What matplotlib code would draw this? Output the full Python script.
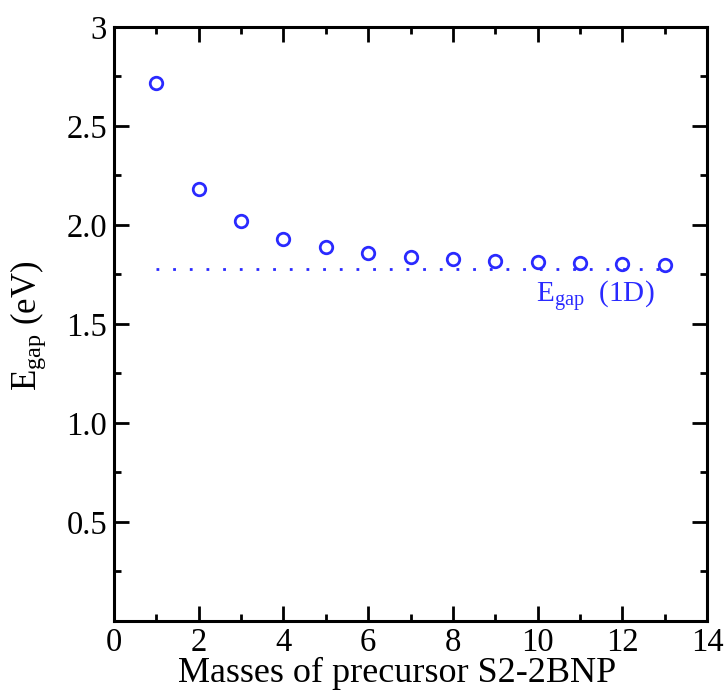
import numpy as np
import matplotlib
matplotlib.use("Agg")
import matplotlib.pyplot as plt
from matplotlib.ticker import MultipleLocator, FixedLocator, FixedFormatter

plt.rcParams['font.family'] = ['Liberation Serif', 'DejaVu Serif']
plt.rcParams['mathtext.fontset'] = 'custom'
plt.rcParams['mathtext.rm'] = 'Liberation Serif'
plt.rcParams['mathtext.it'] = 'Liberation Serif:italic'

# data
masses = [1, 2, 3, 4, 5, 6, 7, 8, 9, 10, 11, 12, 13]
egap = [2.717, 2.182, 2.020, 1.929, 1.889, 1.859, 1.838, 1.828, 1.818, 1.813, 1.808, 1.803, 1.798]
egap_1d = 1.778
line_x = [1, 13]

yticks = [0.5, 1.0, 1.5, 2.0, 2.5, 3.0]
ytick_labels = ['0.5', '1.0', '1.5', '2.0', '2.5', '3']

blue = '#2a2aff'

fig = plt.figure(figsize=(7.26, 6.91), dpi=100)
ax = fig.add_axes([0.157, 0.1013, 0.817, 0.8597])

ax.plot(line_x, [egap_1d, egap_1d], linestyle=(0, (1, 5)), color=blue, lw=2)
ax.plot(masses, egap, 'o', mfc='none', mec=blue, mew=2, ms=9)
ax.text(9.95, 1.606, r'E$_{\mathrm{gap}}$  (1D)', color=blue, fontsize=21, va='baseline')

ax.set_xlim(0, 14)
ax.set_ylim(0, 3)
ax.xaxis.set_major_locator(MultipleLocator(2))
ax.xaxis.set_minor_locator(MultipleLocator(1))
ax.yaxis.set_major_locator(FixedLocator(yticks))
ax.yaxis.set_major_formatter(FixedFormatter(ytick_labels))
ax.yaxis.set_minor_locator(MultipleLocator(0.25))

ax.tick_params(which='both', direction='in', top=True, right=True, width=2, labelsize=23.5)
ax.tick_params(which='major', length=11, pad=5)
ax.tick_params(which='minor', length=5)
for s in ax.spines.values():
    s.set_linewidth(2.2)

ax.set_xlabel('Masses of precursor S2-2BNP', fontsize=26)
ax.xaxis.set_label_coords(0.478, -0.102)
ax.xaxis.label.set_va('baseline')
ax.set_ylabel(r'E$_{\mathrm{gap}}$ (eV)', fontsize=25)
ax.yaxis.set_label_coords(-0.112, 0.497)

fig.savefig('out.png', dpi=100)
